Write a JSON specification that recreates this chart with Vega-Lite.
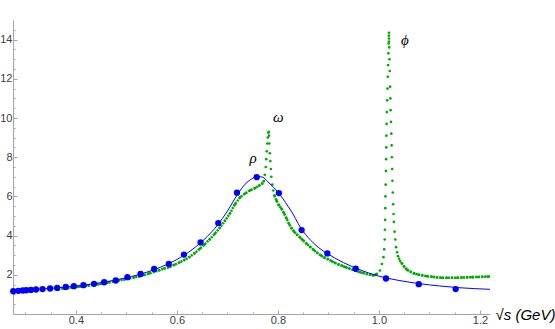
{
  "$schema": "https://vega.github.io/schema/vega-lite/v6.json",
  "width": 477,
  "height": 294,
  "autosize": {"type": "none"},
  "padding": {"left": 13, "top": 20, "right": 65, "bottom": 15},
  "background": "white",
  "config": {
    "view": {"stroke": null},
    "axis": {
      "grid": false,
      "domainColor": "#a6a6a6",
      "domainWidth": 1,
      "tickColor": "#a6a6a6",
      "tickWidth": 1,
      "labelColor": "#404040",
      "labelFont": "Liberation Sans",
      "labelFontSize": 11,
      "labelOverlap": false,
      "labelFlush": false
    }
  },
  "datasets": {
    "blue": [
      {"x": 0.276, "y": 1.16}, {"x": 0.286, "y": 1.18}, {"x": 0.295, "y": 1.20}, {"x": 0.302, "y": 1.21},
      {"x": 0.311, "y": 1.23}, {"x": 0.321, "y": 1.25}, {"x": 0.334, "y": 1.27}, {"x": 0.349, "y": 1.30},
      {"x": 0.363, "y": 1.33}, {"x": 0.380, "y": 1.38}, {"x": 0.396, "y": 1.42}, {"x": 0.415, "y": 1.47},
      {"x": 0.436, "y": 1.54}, {"x": 0.456, "y": 1.62}, {"x": 0.479, "y": 1.71}, {"x": 0.502, "y": 1.88},
      {"x": 0.528, "y": 2.04}, {"x": 0.555, "y": 2.30}, {"x": 0.584, "y": 2.55}, {"x": 0.614, "y": 3.03},
      {"x": 0.647, "y": 3.65}, {"x": 0.682, "y": 4.64}, {"x": 0.719, "y": 6.19}, {"x": 0.758, "y": 6.98},
      {"x": 0.802, "y": 6.17}, {"x": 0.847, "y": 4.28}, {"x": 0.898, "y": 3.09}, {"x": 0.954, "y": 2.31},
      {"x": 1.014, "y": 1.81}, {"x": 1.079, "y": 1.52}, {"x": 1.152, "y": 1.27}
    ],
    "fit": [
      {"x": 0.2755, "y": 1.16}, {"x": 0.30, "y": 1.21}, {"x": 0.33, "y": 1.27}, {"x": 0.36, "y": 1.33},
      {"x": 0.39, "y": 1.40}, {"x": 0.42, "y": 1.49}, {"x": 0.45, "y": 1.60}, {"x": 0.48, "y": 1.74},
      {"x": 0.51, "y": 1.91}, {"x": 0.54, "y": 2.13}, {"x": 0.57, "y": 2.41}, {"x": 0.60, "y": 2.78},
      {"x": 0.63, "y": 3.28}, {"x": 0.66, "y": 3.95}, {"x": 0.68, "y": 4.52}, {"x": 0.70, "y": 5.25},
      {"x": 0.72, "y": 6.10}, {"x": 0.735, "y": 6.62}, {"x": 0.75, "y": 6.92}, {"x": 0.76, "y": 7.02},
      {"x": 0.77, "y": 6.98}, {"x": 0.78, "y": 6.75}, {"x": 0.79, "y": 6.50}, {"x": 0.80, "y": 6.22},
      {"x": 0.81, "y": 5.88}, {"x": 0.82, "y": 5.50}, {"x": 0.83, "y": 5.10}, {"x": 0.84, "y": 4.62},
      {"x": 0.85, "y": 4.22}, {"x": 0.86, "y": 3.90}, {"x": 0.88, "y": 3.40}, {"x": 0.90, "y": 3.05},
      {"x": 0.93, "y": 2.62}, {"x": 0.96, "y": 2.28}, {"x": 1.00, "y": 1.93}, {"x": 1.04, "y": 1.71},
      {"x": 1.08, "y": 1.55}, {"x": 1.12, "y": 1.43}, {"x": 1.16, "y": 1.34}, {"x": 1.22, "y": 1.26}
    ],
    "green": [
      {"x": 0.365, "y": 1.27, "seg": "a"}, {"x": 0.375, "y": 1.30, "seg": "a"}, {"x": 0.385, "y": 1.33, "seg": "a"},
      {"x": 0.395, "y": 1.36, "seg": "a"}, {"x": 0.405, "y": 1.39, "seg": "a"}, {"x": 0.415, "y": 1.42, "seg": "a"},
      {"x": 0.425, "y": 1.45, "seg": "a"}, {"x": 0.435, "y": 1.48, "seg": "a"}, {"x": 0.445, "y": 1.52, "seg": "a"},
      {"x": 0.455, "y": 1.56, "seg": "a"}, {"x": 0.465, "y": 1.61, "seg": "a"}, {"x": 0.475, "y": 1.66, "seg": "a"},
      {"x": 0.485, "y": 1.71, "seg": "a"}, {"x": 0.495, "y": 1.76, "seg": "a"}, {"x": 0.505, "y": 1.81, "seg": "a"},
      {"x": 0.515, "y": 1.86, "seg": "a"}, {"x": 0.525, "y": 1.92, "seg": "a"}, {"x": 0.535, "y": 1.99, "seg": "a"},
      {"x": 0.545, "y": 2.07, "seg": "a"}, {"x": 0.555, "y": 2.15, "seg": "a"}, {"x": 0.565, "y": 2.23, "seg": "a"},
      {"x": 0.575, "y": 2.32, "seg": "a"}, {"x": 0.585, "y": 2.40, "seg": "a"}, {"x": 0.595, "y": 2.51, "seg": "a"},
      {"x": 0.605, "y": 2.63, "seg": "a"}, {"x": 0.615, "y": 2.76, "seg": "a"}, {"x": 0.625, "y": 2.91, "seg": "a"},
      {"x": 0.635, "y": 3.10, "seg": "a"}, {"x": 0.645, "y": 3.32, "seg": "a"}, {"x": 0.655, "y": 3.55, "seg": "a"},
      {"x": 0.665, "y": 3.81, "seg": "a"}, {"x": 0.675, "y": 4.09, "seg": "a"}, {"x": 0.685, "y": 4.40, "seg": "a"},
      {"x": 0.695, "y": 4.75, "seg": "a"}, {"x": 0.705, "y": 5.13, "seg": "a"}, {"x": 0.715, "y": 5.60, "seg": "a"},
      {"x": 0.725, "y": 5.95, "seg": "a"}, {"x": 0.735, "y": 6.15, "seg": "a"}, {"x": 0.745, "y": 6.31, "seg": "a"},
      {"x": 0.755, "y": 6.43, "seg": "a"}, {"x": 0.763, "y": 6.55, "seg": "a"}, {"x": 0.769, "y": 6.66, "seg": "a"},
      {"x": 0.772, "y": 6.78, "seg": "a"},
      {"x": 0.774, "y": 7.1, "seg": "s"}, {"x": 0.776, "y": 7.5, "seg": "s"}, {"x": 0.777, "y": 7.9, "seg": "s"},
      {"x": 0.778, "y": 8.3, "seg": "s"}, {"x": 0.779, "y": 8.7, "seg": "s"}, {"x": 0.780, "y": 9.0, "seg": "s"},
      {"x": 0.781, "y": 9.25, "seg": "s"}, {"x": 0.782, "y": 9.3, "seg": "s"}, {"x": 0.7825, "y": 9.1, "seg": "s"},
      {"x": 0.783, "y": 8.7, "seg": "s"}, {"x": 0.784, "y": 8.2, "seg": "s"}, {"x": 0.785, "y": 7.8, "seg": "s"},
      {"x": 0.786, "y": 7.4, "seg": "s"}, {"x": 0.787, "y": 7.0, "seg": "s"}, {"x": 0.789, "y": 6.6, "seg": "s"},
      {"x": 0.791, "y": 6.3, "seg": "s"},
      {"x": 0.793, "y": 6.05, "seg": "b"}, {"x": 0.797, "y": 5.80, "seg": "b"}, {"x": 0.802, "y": 5.55, "seg": "b"},
      {"x": 0.807, "y": 5.38, "seg": "b"}, {"x": 0.812, "y": 5.15, "seg": "b"}, {"x": 0.817, "y": 4.88, "seg": "b"},
      {"x": 0.822, "y": 4.60, "seg": "b"}, {"x": 0.827, "y": 4.38, "seg": "b"}, {"x": 0.832, "y": 4.20, "seg": "b"},
      {"x": 0.838, "y": 4.04, "seg": "b"}, {"x": 0.844, "y": 3.90, "seg": "b"}, {"x": 0.850, "y": 3.76, "seg": "b"},
      {"x": 0.857, "y": 3.58, "seg": "b"}, {"x": 0.864, "y": 3.42, "seg": "b"}, {"x": 0.871, "y": 3.27, "seg": "b"},
      {"x": 0.878, "y": 3.12, "seg": "b"}, {"x": 0.885, "y": 2.99, "seg": "b"}, {"x": 0.892, "y": 2.88, "seg": "b"},
      {"x": 0.899, "y": 2.80, "seg": "b"}, {"x": 0.906, "y": 2.70, "seg": "b"}, {"x": 0.913, "y": 2.61, "seg": "b"},
      {"x": 0.920, "y": 2.53, "seg": "b"}, {"x": 0.927, "y": 2.46, "seg": "b"}, {"x": 0.934, "y": 2.39, "seg": "b"},
      {"x": 0.941, "y": 2.32, "seg": "b"}, {"x": 0.948, "y": 2.26, "seg": "b"}, {"x": 0.955, "y": 2.20, "seg": "b"},
      {"x": 0.962, "y": 2.14, "seg": "b"}, {"x": 0.969, "y": 2.09, "seg": "b"}, {"x": 0.976, "y": 2.04, "seg": "b"},
      {"x": 0.983, "y": 2.00, "seg": "b"}, {"x": 0.990, "y": 1.97, "seg": "b"}, {"x": 0.996, "y": 2.05, "seg": "b"},
      {"x": 1.002, "y": 2.22, "seg": "s"}, {"x": 1.006, "y": 2.55, "seg": "s"}, {"x": 1.009, "y": 2.9, "seg": "s"},
      {"x": 1.0105, "y": 3.3, "seg": "s"}, {"x": 1.0115, "y": 3.8, "seg": "s"}, {"x": 1.012, "y": 4.3, "seg": "s"},
      {"x": 1.0123, "y": 4.8, "seg": "s"}, {"x": 1.0126, "y": 5.4, "seg": "s"}, {"x": 1.013, "y": 6.0, "seg": "s"},
      {"x": 1.0134, "y": 6.6, "seg": "s"}, {"x": 1.0139, "y": 7.3, "seg": "s"}, {"x": 1.0143, "y": 7.9, "seg": "s"},
      {"x": 1.0146, "y": 8.5, "seg": "s"}, {"x": 1.0149, "y": 9.1, "seg": "s"}, {"x": 1.0152, "y": 9.7, "seg": "s"},
      {"x": 1.0158, "y": 10.3, "seg": "s"}, {"x": 1.0164, "y": 10.9, "seg": "s"}, {"x": 1.0170, "y": 11.5, "seg": "s"},
      {"x": 1.0176, "y": 12.1, "seg": "s"}, {"x": 1.0182, "y": 12.7, "seg": "s"}, {"x": 1.0188, "y": 13.3, "seg": "s"},
      {"x": 1.0193, "y": 13.8, "seg": "s"}, {"x": 1.0197, "y": 14.2, "seg": "s"}, {"x": 1.0199, "y": 13.9, "seg": "s"},
      {"x": 1.0200, "y": 14.35, "seg": "s"}, {"x": 1.0201, "y": 14.05, "seg": "s"}, {"x": 1.0205, "y": 13.6, "seg": "s"},
      {"x": 1.0210, "y": 13.0, "seg": "s"}, {"x": 1.0215, "y": 12.4, "seg": "s"}, {"x": 1.0222, "y": 11.6, "seg": "s"},
      {"x": 1.0228, "y": 11.0, "seg": "s"}, {"x": 1.0232, "y": 10.4, "seg": "s"}, {"x": 1.0240, "y": 9.8, "seg": "s"},
      {"x": 1.0246, "y": 9.2, "seg": "s"}, {"x": 1.0252, "y": 8.6, "seg": "s"}, {"x": 1.0257, "y": 8.0, "seg": "s"},
      {"x": 1.0263, "y": 7.4, "seg": "s"}, {"x": 1.0268, "y": 6.8, "seg": "s"}, {"x": 1.0275, "y": 6.2, "seg": "s"},
      {"x": 1.0282, "y": 5.6, "seg": "s"}, {"x": 1.0290, "y": 5.1, "seg": "s"}, {"x": 1.0297, "y": 4.7, "seg": "s"},
      {"x": 1.0310, "y": 4.2, "seg": "s"}, {"x": 1.0325, "y": 3.8, "seg": "s"}, {"x": 1.0340, "y": 3.41, "seg": "s"},
      {"x": 1.0360, "y": 3.15, "seg": "s"}, {"x": 1.0380, "y": 2.95, "seg": "s"}, {"x": 1.0400, "y": 2.82, "seg": "s"},
      {"x": 1.0420, "y": 2.70, "seg": "s"},
      {"x": 1.045, "y": 2.60, "seg": "c"}, {"x": 1.050, "y": 2.42, "seg": "c"}, {"x": 1.056, "y": 2.25, "seg": "c"},
      {"x": 1.063, "y": 2.15, "seg": "c"}, {"x": 1.070, "y": 2.07, "seg": "c"}, {"x": 1.078, "y": 2.01, "seg": "c"},
      {"x": 1.086, "y": 1.97, "seg": "c"}, {"x": 1.095, "y": 1.93, "seg": "c"}, {"x": 1.105, "y": 1.90, "seg": "c"},
      {"x": 1.115, "y": 1.87, "seg": "c"}, {"x": 1.125, "y": 1.85, "seg": "c"}, {"x": 1.135, "y": 1.85, "seg": "c"},
      {"x": 1.145, "y": 1.85, "seg": "c"}, {"x": 1.155, "y": 1.85, "seg": "c"}, {"x": 1.165, "y": 1.86, "seg": "c"},
      {"x": 1.175, "y": 1.87, "seg": "c"}, {"x": 1.185, "y": 1.88, "seg": "c"}, {"x": 1.195, "y": 1.89, "seg": "c"},
      {"x": 1.205, "y": 1.90, "seg": "c"}, {"x": 1.215, "y": 1.91, "seg": "c"}, {"x": 1.22, "y": 1.91, "seg": "c"}
    ],
    "labels": [
      {"x": 0.751, "y": 7.94, "label": "ρ"},
      {"x": 0.8006, "y": 10.04, "label": "ω"},
      {"x": 1.0515, "y": 13.98, "label": "ϕ"}
    ]
  },
  "encoding": {
    "x": {
      "field": "x",
      "type": "quantitative",
      "scale": {"domain": [0.2755, 1.22], "nice": false, "zero": false},
      "axis": {
        "values": [0.30, 0.35, 0.40, 0.45, 0.50, 0.55, 0.60, 0.65, 0.70, 0.75, 0.80, 0.85, 0.90, 0.95, 1.00, 1.05, 1.10, 1.15, 1.20],
        "labelExpr": "round(datum.value*100) % 20 == 0 ? format(datum.value, '.1f') : ''",
        "tickSize": {"condition": {"test": "round(datum.value*100) % 20 == 0", "value": -4}, "value": -2},
        "labelPadding": 4,
        "title": "√s (GeV)",
        "titleX": 482,
        "titleY": 0,
        "titleAlign": "left",
        "titleBaseline": "middle",
        "titleAngle": 0,
        "titleFont": "Liberation Sans",
        "titleFontStyle": "italic",
        "titleFontWeight": "normal",
        "titleFontSize": 15,
        "titleColor": "black"
      }
    },
    "y": {
      "field": "y",
      "type": "quantitative",
      "scale": {"domain": [0, 15], "nice": false, "zero": false},
      "axis": {
        "values": [0.5, 1, 1.5, 2, 2.5, 3, 3.5, 4, 4.5, 5, 5.5, 6, 6.5, 7, 7.5, 8, 8.5, 9, 9.5, 10, 10.5, 11, 11.5, 12, 12.5, 13, 13.5, 14, 14.5],
        "labelExpr": "datum.value % 2 == 0 ? format(datum.value, 'd') : ''",
        "tickSize": {"condition": {"test": "datum.value % 2 == 0", "value": -4}, "value": -2},
        "labelPadding": 5,
        "title": null
      }
    }
  },
  "layer": [
    {
      "data": {"name": "green"},
      "transform": [{"filter": "datum.seg != 's'"}],
      "mark": {"type": "line", "color": "#00aa00", "strokeWidth": 2.6, "strokeDash": [2, 1], "clip": true},
      "encoding": {"detail": {"field": "seg", "type": "nominal"}}
    },
    {
      "data": {"name": "green"},
      "mark": {"type": "circle", "color": "#00aa00", "size": 7, "opacity": 1, "clip": true}
    },
    {
      "data": {"name": "fit"},
      "mark": {"type": "line", "color": "#0000ff", "strokeWidth": 1, "interpolate": "monotone", "clip": true},
      "encoding": {}
    },
    {
      "data": {"name": "blue"},
      "mark": {"type": "circle", "color": "#0000ff", "size": 40, "opacity": 1}
    },
    {
      "data": {"name": "labels"},
      "mark": {"type": "text", "font": "Liberation Serif", "fontStyle": "italic", "fontSize": 15, "color": "black", "align": "center", "baseline": "middle"},
      "encoding": {"text": {"field": "label", "type": "nominal"}}
    }
  ]
}
